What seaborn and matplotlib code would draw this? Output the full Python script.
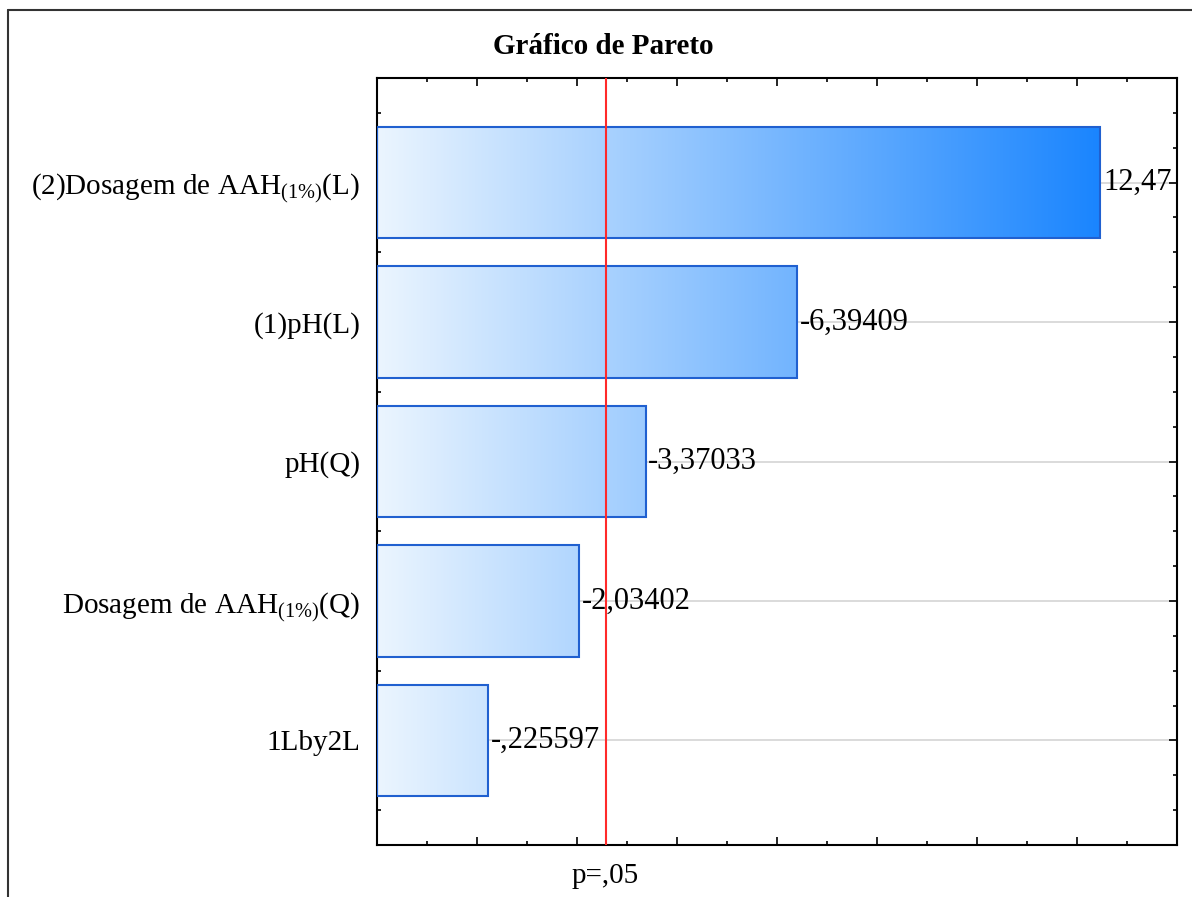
import numpy as np
import pandas as pd
import matplotlib
matplotlib.use('Agg')
import matplotlib.pyplot as plt
from matplotlib.ticker import MultipleLocator
from matplotlib.lines import Line2D
from matplotlib.colors import LinearSegmentedColormap
import seaborn as sns

# effect estimates (standardized), as printed on the chart
factors = [
    r'(2)Dosagem de AAH$_{\mathregular{(1\%)}}$(L)',
    '(1)pH(L)',
    'pH(Q)',
    r'Dosagem de AAH$_{\mathregular{(1\%)}}$(Q)',
    '1Lby2L',
]
effects = [12.47, -6.39409, -3.37033, -2.03402, -0.225597]
p_crit = 2.571  # t critical, p=.05
x_lo, x_hi = -2, 14

df = pd.DataFrame({'factor': factors, 'effect': effects})
df['abs_effect'] = df['effect'].abs()

sns.set_theme(style='ticks')
plt.rcParams['font.family'] = ['Liberation Serif', 'DejaVu Serif']
plt.rcParams['mathtext.fontset'] = 'custom'
plt.rcParams['mathtext.rm'] = 'Liberation Serif'

fig = plt.figure(figsize=(11.92, 8.97), dpi=100)
ax = fig.add_axes([0.3163, 0.058, 0.6711, 0.855])

sns.barplot(data=df, x='abs_effect', y='factor', orient='h', width=0.8,
            ax=ax, zorder=3)

cmap = LinearSegmentedColormap.from_list('pareto', ['#ebf5fe', '#1a85ff'])
grad = np.linspace(0, 1, 256).reshape(1, -1)
gmax = df['abs_effect'].max()

for patch in ax.patches:
    w = patch.get_width()
    patch.set_x(x_lo)
    patch.set_width(w - x_lo)
    patch.set_facecolor('none')
    patch.set_edgecolor('#2060d0')
    patch.set_linewidth(1.5)
    y0 = patch.get_y()
    h = patch.get_height()
    im = ax.imshow(grad, cmap=cmap, aspect='auto', zorder=2,
                   extent=[x_lo, gmax, y0 + h, y0], interpolation='bicubic')
    im.set_clip_path(patch)

for i, row in df.iterrows():
    txt = f"{row['effect']:.6g}".replace('.', ',').replace('-0,', '-,')
    ax.annotate(txt, xy=(row['abs_effect'], i), xytext=(2, 0),
                textcoords='offset points', ha='left', va='center',
                fontsize=22, color='black', zorder=5)

ax.axvline(p_crit, color='#ff2a2a', lw=1.5, zorder=4)
ax.annotate('p=,05', xy=(p_crit, 0), xycoords=('data', 'axes fraction'),
            xytext=(0, -13), textcoords='offset points', ha='center', va='top',
            fontsize=21, color='black')

ax.set_xlim(x_lo, x_hi)
ax.set_ylim(len(factors) - 0.25, -0.75)
ax.set_xticks(np.arange(0, 13, 2))
ax.set_xticklabels([])
ax.xaxis.set_minor_locator(MultipleLocator(1))
ax.yaxis.set_minor_locator(MultipleLocator(0.25))
ax.tick_params(axis='x', which='both', direction='in', top=True, bottom=True,
               color='black')
ax.tick_params(axis='x', which='major', length=6, width=1.2)
ax.tick_params(axis='x', which='minor', length=3, width=1.2)
ax.tick_params(axis='y', which='both', direction='in', left=True, right=True,
               color='black')
ax.tick_params(axis='y', which='major', length=6, width=1.2, pad=12,
               labelsize=21, labelcolor='black')
ax.tick_params(axis='y', which='minor', length=3, width=1.2)

ax.yaxis.grid(True, color='#d4d4d4', lw=1.2, zorder=0)
ax.set_axisbelow(True)
ax.set_xlabel('')
ax.set_ylabel('')
for s in ax.spines.values():
    s.set_color('black')
    s.set_linewidth(1.5)

fig.text(0.506, 0.948, 'Gráfico de Pareto', ha='center', va='center',
         fontsize=21, fontweight='bold', color='black')

fig.add_artist(Line2D([8 / 1192, 8 / 1192], [0, 1 - 10 / 897],
                      color='#333333', lw=1.5, transform=fig.transFigure))
fig.add_artist(Line2D([8 / 1192, 1], [1 - 10 / 897, 1 - 10 / 897],
                      color='#333333', lw=1.5, transform=fig.transFigure))

fig.savefig('out.png', dpi=100)
